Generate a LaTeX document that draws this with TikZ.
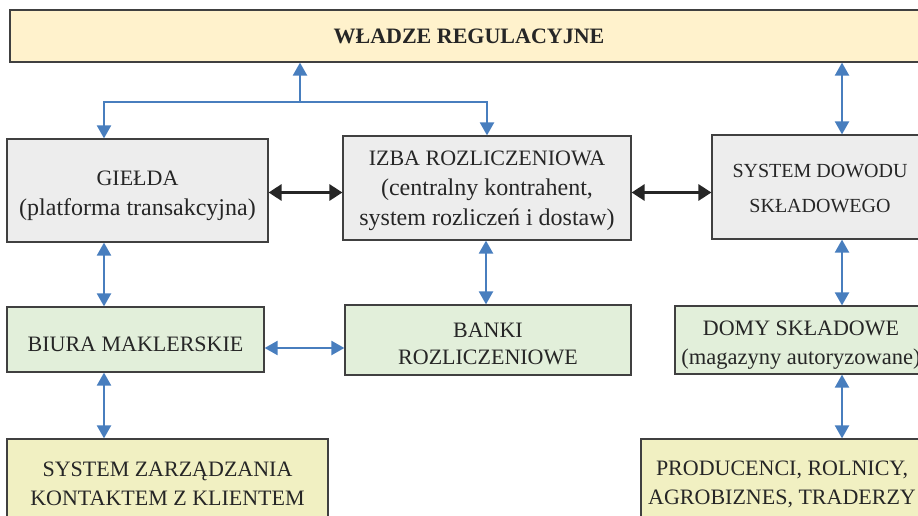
\documentclass[tikz,border=0pt]{standalone}
\usepackage{fontspec}
\setmainfont{Liberation Serif}
\usetikzlibrary{arrows.meta}
\usetikzlibrary{positioning}
\definecolor{ramka}{HTML}{404040}
\definecolor{niebieski}{RGB}{72,126,190}
\definecolor{zolty}{HTML}{FFF2CC}
\definecolor{szary}{HTML}{EDEDED}
\definecolor{zielony}{HTML}{E2EFDA}
\definecolor{oliwka}{HTML}{F1F0C2}
\tikzset{box/.style={draw=ramka, line width=1.2pt, align=center, inner sep=0pt, text=black!85, font=\fontsize{22}{30}\selectfont},
barrow/.style={draw=niebieski, line width=2.2pt, >={Triangle[width=14pt,length=13pt]}},
karrow/.style={draw=black!85, line width=3pt, >={Triangle[width=16pt,length=13pt]}}}
\newcommand{\lc}{\fontsize{24}{30}\selectfont}
\newcommand{\dol}[1]{\rule{0pt}{#1}}

\begin{document}
\begin{tikzpicture}[x=1pt,y=-1pt]
\useasboundingbox (0,0) rectangle (918,516);
\clip (0,0) rectangle (918,516);

\node (wladze) [box, fill=zolty, minimum width=918pt, minimum height=52pt, font=\fontsize{22}{30}\selectfont\bfseries] at (469,36) {WŁADZE REGULACYJNE};

\node (gielda) [box, fill=szary, minimum width=261pt, minimum height=103pt] at (137.5,190.5) {\dol{24.6pt}GIEŁDA\\{\lc(platforma transakcyjna)}};
\node (izba) [box, fill=szary, minimum width=288pt, minimum height=104pt] at (487,188) {\dol{20.6pt}IZBA ROZLICZENIOWA\\{\lc(centralny kontrahent,}\\{\lc system rozliczeń i dostaw)}};
\node (dowod) [box, fill=szary, minimum width=216pt, minimum height=104pt, font=\fontsize{20}{35}\selectfont] at (820,187) {\dol{17.2pt}SYSTEM DOWODU\\SKŁADOWEGO};

\node (biura) [box, fill=zielony, minimum width=257pt, minimum height=65pt] at (135.5,339.5) {\dol{24.6pt}BIURA MAKLERSKIE};
\node (banki) [box, fill=zielony, minimum width=286pt, minimum height=70pt, font=\fontsize{22}{27}\selectfont] at (488,340) {\dol{22.6pt}BANKI\\ROZLICZENIOWE};
\node (domy) [box, fill=zielony, minimum width=252pt, minimum height=68pt, font=\fontsize{22}{29}\selectfont] at (801,340) {\dol{24.6pt}DOMY SKŁADOWE\\{\fontsize{22.5}{29}\selectfont(magazyny autoryzowane)}};

\node (szk) [box, fill=oliwka, minimum width=321pt, minimum height=86pt, font=\fontsize{22}{29}\selectfont] at (167.5,482) {\dol{18.6pt}SYSTEM ZARZĄDZANIA\\KONTAKTEM Z KLIENTEM};
\node (prod) [box, fill=oliwka, minimum width=282pt, minimum height=86pt, font=\fontsize{22}{29}\selectfont] at (782,482) {\dol{18.6pt}PRODUCENCI, ROLNICY,\\AGROBIZNES, TRADERZY};

\coordinate (k1) at (104,0);
\coordinate (k2) at (486,0);
\coordinate (k3) at (487,0);
\coordinate (k4) at (842,0);
\coordinate (hub) at (300,102);
\coordinate (r1) at (0,192.5);
\coordinate (r2) at (0,348);

\draw[barrow,->] (hub) -- (hub |- wladze.south);
\draw[barrow,<->] (k1 |- gielda.north) -- (k1 |- hub) -- (k3 |- hub) -- (k3 |- izba.north);
\draw[barrow,<->] (k4 |- wladze.south) -- (k4 |- dowod.north);

\draw[karrow,<->] (gielda.east |- r1) -- (izba.west |- r1);
\draw[karrow,<->] (izba.east |- r1) -- (dowod.west |- r1);

\draw[barrow,<->] (k1 |- gielda.south) -- (k1 |- biura.north);
\draw[barrow,<->] (k2 |- izba.south) -- (k2 |- banki.north);
\draw[barrow,<->] (k4 |- dowod.south) -- (k4 |- domy.north);
\draw[barrow,<->] (biura.east |- r2) -- (banki.west |- r2);

\draw[barrow,<->] (k1 |- biura.south) -- (k1 |- szk.north);
\draw[barrow,<->] (k4 |- domy.south) -- (k4 |- prod.north);
\end{tikzpicture}
\end{document}
